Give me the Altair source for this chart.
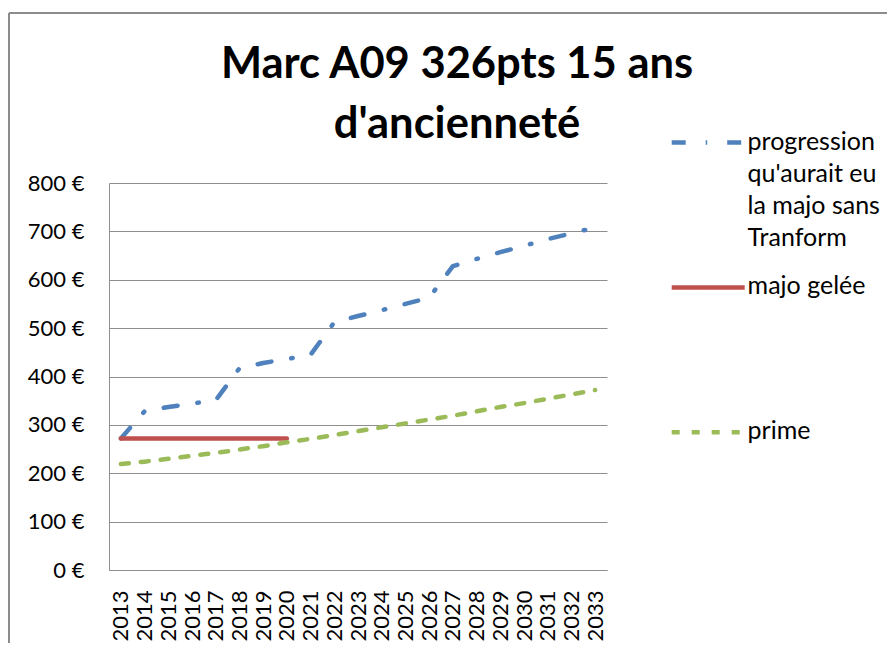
import altair as alt
import pandas as pd

years = ["2013", "2014", "2015", "2016", "2017", "2018", "2019", "2020", "2021", "2022", "2023",
         "2024", "2025", "2026", "2027", "2028", "2029", "2030", "2031", "2032", "2033"]
progression = [272, 328, 337, 344, 351, 417, 428, 436, 445, 512, 525, 537, 550, 563, 628, 643, 657, 670, 684, 696, 708]
majo_years = ["2013", "2014", "2015", "2016", "2017", "2018", "2019", "2020"]
majo_gelee = [272, 272, 272, 272, 272, 272, 272, 272]
prime = [219, 224, 230, 236, 242, 249, 256, 264, 271, 279, 287, 295, 303, 311, 319, 328, 337, 345, 354, 363, 372]
y_ticks = [0, 100, 200, 300, 400, 500, 600, 700, 800]

series_names = ["progression qu'aurait eu la majo sans Tranform", "majo gelée", "prime"]
colors = ["#4F81BD", "#C0504D", "#9BBB59"]
dashes = [[14, 20, 1.5, 20], [1, 0], [8, 12]]

rows = []
for y, v in zip(years, progression):
    rows.append({"year": y, "serie": series_names[0], "value": v})
for y, v in zip(majo_years, majo_gelee):
    rows.append({"year": y, "serie": series_names[1], "value": v})
for y, v in zip(years, prime):
    rows.append({"year": y, "serie": series_names[2], "value": v})
df = pd.DataFrame(rows)

W, H = 498, 387
GRID = "#8e8e8e"

label_expr = (
    "datum.label == 'majo gelée' ? ['majo gelée', '', '', ''] : "
    "datum.label == 'prime' ? ['prime'] : "
    "['progression', \"qu'aurait eu\", 'la majo sans', 'Tranform']"
)

legend = alt.Legend(
    title=None, orient="none", legendX=563, legendY=-69,
    symbolType="M-8,3.507L8,3.507", symbolSize=83.27, symbolStrokeWidth=4.5,
    labelFont="Lato", labelFontSize=25, labelColor="black",
    labelBaseline="line-top", labelOffset=26.9, labelLimit=0,
    labelExpr=label_expr, padding=0, rowPadding=7.9, symbolOffset=23.7,
)

lines = alt.Chart(df).mark_line(strokeWidth=4.5, strokeCap="round", strokeJoin="round").encode(
    x=alt.X("year:O", sort=years, scale=alt.Scale(domain=years),
            axis=alt.Axis(title=None, labelAngle=-90, ticks=False, labelPadding=20,
                          domainColor=GRID, domainWidth=1, grid=False,
                          labelFont="Lato", labelFontSize=22, labelColor="black")),
    y=alt.Y("value:Q", scale=alt.Scale(domain=[0, 800], nice=False),
            axis=alt.Axis(title=None, values=y_ticks, labelExpr="datum.value + ' €'",
                          ticks=False, labelPadding=25, domainColor=GRID, domainWidth=1,
                          gridColor=GRID, gridWidth=1,
                          labelFont="Lato", labelFontSize=22, labelColor="black")),
    color=alt.Color("serie:N", scale=alt.Scale(domain=series_names, range=colors), legend=legend),
    strokeDash=alt.StrokeDash("serie:N", scale=alt.Scale(domain=series_names, range=dashes), legend=legend),
)

border_left = alt.Chart(alt.Data(values=[{}])).mark_rule(color="#8c8c8c", strokeWidth=2).encode(
    x=alt.value(-100), y=alt.value(-170), y2=alt.value(475)
)
border_top = alt.Chart(alt.Data(values=[{}])).mark_rule(color="#8c8c8c", strokeWidth=2).encode(
    x=alt.value(-100), x2=alt.value(778), y=alt.value(-170)
)

chart = alt.layer(border_left, border_top, lines).properties(
    width=W, height=H,
    padding={"left": 101, "top": 175, "right": 280, "bottom": 73},
    autosize=alt.AutoSizeParams(type="none"),
    title=alt.Title(
        text=["Marc A09 326pts 15 ans", "d'ancienneté"],
        font="Lato", fontSize=43.5, fontWeight="bold", lineHeight=60, color="black",
        anchor="middle", dx=99, offset=-135,
    ),
).configure(style={"guide-label": {"lineHeight": 32}}).configure_view(stroke="transparent")

chart.save("out.html", embed_options={"renderer": "svg", "actions": False})
